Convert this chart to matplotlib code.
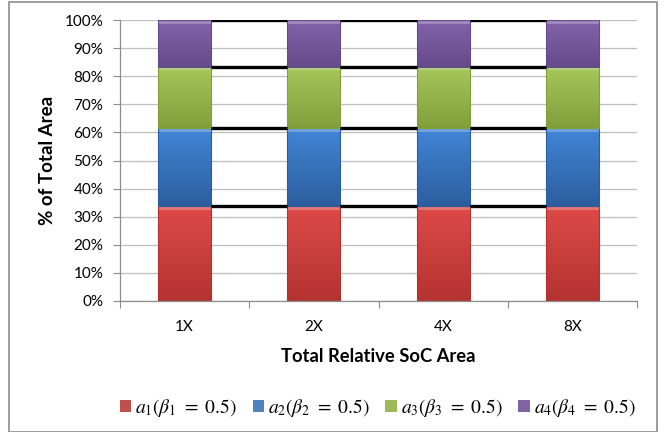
import numpy as np
import matplotlib
matplotlib.use("Agg")
import matplotlib.pyplot as plt
from matplotlib.patches import Rectangle
from matplotlib.colors import LinearSegmentedColormap
from matplotlib.ticker import PercentFormatter

categories = ["1X", "2X", "4X", "8X"]
series_names = [r"$a_1(\beta_1\ =\ 0.5)$", r"$a_2(\beta_2\ =\ 0.5)$",
                r"$a_3(\beta_3\ =\ 0.5)$", r"$a_4(\beta_4\ =\ 0.5)$"]
a1 = [33.8, 33.8, 33.8, 33.8]
a2 = [27.7, 27.7, 27.7, 27.7]
a3 = [21.9, 21.9, 21.9, 21.9]
a4 = [16.6, 16.6, 16.6, 16.6]
series_values = [a1, a2, a3, a4]

top_colors = ["#DE4A48", "#4286D6", "#A6C85C", "#8263AB"]
bot_colors = ["#B33331", "#2C5E9F", "#829F3A", "#674A8A"]
legend_colors = ["#C0504D", "#4F81BD", "#9BBB59", "#8064A2"]

plt.rcParams["mathtext.fontset"] = "stix"
plt.rcParams["font.family"] = ["Lato", "DejaVu Sans"]

fig = plt.figure(figsize=(6.72, 4.32), dpi=100)
ax = fig.add_axes([120/672, 1-301/432, 517/672, 281/432])

x = np.arange(len(categories))
width = 0.41
bottom = np.zeros(len(categories))
grad = np.linspace(0, 1, 256).reshape(-1, 1)
all_tops = []
for vals, tc, bc, lc, name in zip(series_values, top_colors, bot_colors, legend_colors, series_names):
    vals = np.array(vals, dtype=float)
    bars = ax.bar(x, vals, width, bottom=bottom, color=lc, edgecolor="none",
                  label=name, zorder=2)
    cmap = LinearSegmentedColormap.from_list("g", [bc, tc])
    for p in bars:
        x0, y0 = p.get_x(), p.get_y()
        w, h = p.get_width(), p.get_height()
        im = ax.imshow(grad, extent=(x0, x0 + w, y0, y0 + h), origin="lower",
                       cmap=cmap, aspect="auto", zorder=2.5, interpolation="bicubic")
        im.set_clip_path(p)
        ax.add_patch(Rectangle((x0, y0 + h - 1.3), w, 1.3, facecolor="white",
                               alpha=0.25, edgecolor="none", zorder=2.6))
        ax.add_patch(Rectangle((x0, y0), w, h, facecolor="none",
                               edgecolor=bc, linewidth=0.8, zorder=2.7))
    bottom = bottom + vals
    all_tops.append(bottom.copy())

for tops in all_tops:
    for i in range(len(categories) - 1):
        ax.plot([x[i] + width/2, x[i+1] - width/2], [tops[i], tops[i+1]],
                color="black", lw=2.4, solid_capstyle="butt", zorder=3)

ax.set_xlim(-0.5, len(categories) - 0.5)
ax.set_ylim(0, 100)
ax.set_yticks(np.arange(0, 101, 10))
ax.yaxis.set_major_formatter(PercentFormatter(decimals=0))
ax.grid(axis="y", color="#BEBEBE", lw=0.9, zorder=0)
ax.set_axisbelow(True)
ax.set_xticks(np.arange(-0.5, len(categories), 1.0))
ax.set_xticklabels([])
ax.set_xticks(x, minor=True)
ax.set_xticklabels(categories, minor=True)
ax.tick_params(axis="x", which="minor", length=0, pad=14, labelsize=11)
ax.tick_params(axis="x", which="major", length=5, color="#8C8C8C", direction="out")
ax.tick_params(axis="y", length=5, color="#8C8C8C", labelsize=11, pad=7)
for s in ["top", "right"]:
    ax.spines[s].set_visible(False)
for s in ["left", "bottom"]:
    ax.spines[s].set_color("#8C8C8C")
    ax.spines[s].set_linewidth(0.9)

ax.set_ylabel("% of Total Area", fontsize=13.5, fontweight="bold", labelpad=6)
ax.set_xlabel("Total Relative SoC Area", fontsize=13.2, fontweight="bold", labelpad=10)

handles, labels = ax.get_legend_handles_labels()
fig.legend(handles, labels, loc="center", bbox_to_anchor=(0.562, 1-408/432),
           ncol=4, frameon=False, fontsize=14, handlelength=0.6, handleheight=0.6,
           handletextpad=0.2, columnspacing=0.8)

fig.patches.append(Rectangle((9/672, 0.5/432), 648/672, 430/432, transform=fig.transFigure,
                             facecolor="none", edgecolor="#8C8C8C", lw=1.2))

fig.savefig("out.png", dpi=100)
